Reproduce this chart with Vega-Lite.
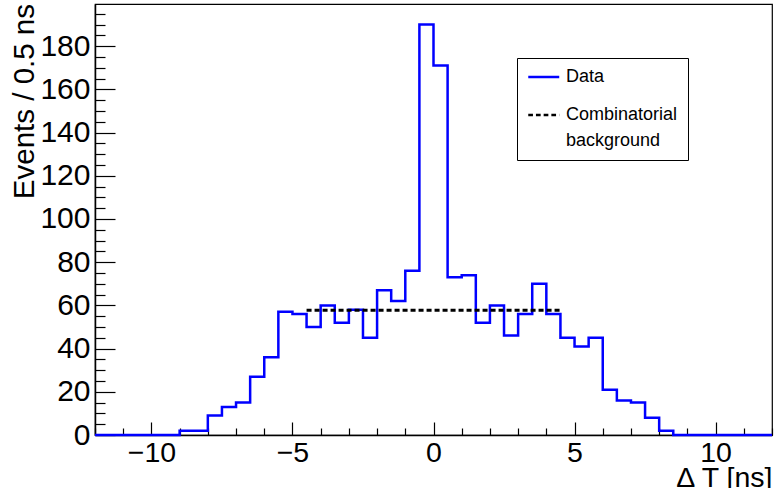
{
  "$schema": "https://vega.github.io/schema/vega-lite/v6.json",
  "width": 677,
  "height": 431,
  "autosize": {"type": "none"},
  "padding": {"left": 95, "top": 4, "right": 3, "bottom": 53},
  "background": "white",
  "config": {
    "view": {"stroke": "black", "strokeWidth": 1.2},
    "font": "Liberation Sans",
    "axis": {
      "grid": false,
      "domainColor": "black",
      "domainWidth": 1.5,
      "tickColor": "black",
      "tickWidth": 1.2,
      "labelColor": "black",
      "labelFont": "Liberation Sans",
      "labelFontSize": 29,
      "titleFont": "Liberation Sans",
      "titleFontSize": 29,
      "titleFontWeight": "normal",
      "titleColor": "black",
      "labelFlush": false,
      "labelOverlap": false
    }
  },
  "datasets": {
    "hist": [
      {"t": -12, "n": 0, "series": "Data"},
      {"t": -11.5, "n": 0, "series": "Data"},
      {"t": -11, "n": 0, "series": "Data"},
      {"t": -10.5, "n": 0, "series": "Data"},
      {"t": -10, "n": 0, "series": "Data"},
      {"t": -9.5, "n": 0, "series": "Data"},
      {"t": -9, "n": 2, "series": "Data"},
      {"t": -8.5, "n": 2, "series": "Data"},
      {"t": -8, "n": 9, "series": "Data"},
      {"t": -7.5, "n": 13, "series": "Data"},
      {"t": -7, "n": 15, "series": "Data"},
      {"t": -6.5, "n": 27, "series": "Data"},
      {"t": -6, "n": 36, "series": "Data"},
      {"t": -5.5, "n": 57, "series": "Data"},
      {"t": -5, "n": 56, "series": "Data"},
      {"t": -4.5, "n": 50, "series": "Data"},
      {"t": -4, "n": 60, "series": "Data"},
      {"t": -3.5, "n": 52, "series": "Data"},
      {"t": -3, "n": 58, "series": "Data"},
      {"t": -2.5, "n": 45, "series": "Data"},
      {"t": -2, "n": 67, "series": "Data"},
      {"t": -1.5, "n": 62, "series": "Data"},
      {"t": -1, "n": 76, "series": "Data"},
      {"t": -0.5, "n": 190, "series": "Data"},
      {"t": 0, "n": 171, "series": "Data"},
      {"t": 0.5, "n": 73, "series": "Data"},
      {"t": 1, "n": 74, "series": "Data"},
      {"t": 1.5, "n": 52, "series": "Data"},
      {"t": 2, "n": 60, "series": "Data"},
      {"t": 2.5, "n": 46, "series": "Data"},
      {"t": 3, "n": 56, "series": "Data"},
      {"t": 3.5, "n": 70, "series": "Data"},
      {"t": 4, "n": 56, "series": "Data"},
      {"t": 4.5, "n": 45, "series": "Data"},
      {"t": 5, "n": 41, "series": "Data"},
      {"t": 5.5, "n": 45, "series": "Data"},
      {"t": 6, "n": 21, "series": "Data"},
      {"t": 6.5, "n": 16, "series": "Data"},
      {"t": 7, "n": 15, "series": "Data"},
      {"t": 7.5, "n": 8, "series": "Data"},
      {"t": 8, "n": 2, "series": "Data"},
      {"t": 8.5, "n": 0, "series": "Data"},
      {"t": 9, "n": 0, "series": "Data"},
      {"t": 9.5, "n": 0, "series": "Data"},
      {"t": 10, "n": 0, "series": "Data"},
      {"t": 10.5, "n": 0, "series": "Data"},
      {"t": 11, "n": 0, "series": "Data"},
      {"t": 11.5, "n": 0, "series": "Data"},
      {"t": 12, "n": 0, "series": "Data"}
    ],
    "bkg": [
      {"t": -4.5, "n": 57.7, "series": "Combinatorial background"},
      {"t": 4.5, "n": 57.7, "series": "Combinatorial background"}
    ]
  },
  "resolve": {"axis": {"x": "independent", "y": "independent"}},
  "layer": [
    {
      "data": {"name": "hist"},
      "mark": {"type": "line", "interpolate": "step-after", "strokeWidth": 2.5},
      "encoding": {
        "x": {
          "field": "t", "type": "quantitative",
          "scale": {"domain": [-12, 12], "nice": false, "zero": false},
          "axis": {
            "orient": "bottom",
            "values": [-10, -5, 0, 5, 10],
            "tickSize": -13,
            "labelFontSize": 28.5,
            "labelPadding": 16,
            "format": "d",
            "title": "Δ T [ns]",
            "titleFontSize": 28.5,
            "titleAnchor": "end",
            "titleAlign": "right",
            "titleBaseline": "alphabetic",
            "titleX": 677,
            "titleY": 51
          }
        },
        "y": {
          "field": "n", "type": "quantitative",
          "scale": {"domain": [0, 199.5], "nice": false},
          "axis": {
            "orient": "left",
            "values": [0, 20, 40, 60, 80, 100, 120, 140, 160, 180],
            "tickSize": -20,
            "labelFontSize": 30,
            "labelPadding": 25,
            "format": "d",
            "title": "Events / 0.5 ns",
            "titleFontSize": 29.5,
            "titleAngle": -90,
            "titleAlign": "right",
            "titleBaseline": "alphabetic",
            "titleX": -62,
            "titleY": -0.5
          }
        },
        "color": {
          "field": "series", "type": "nominal",
          "scale": {"domain": ["Data", "Combinatorial background"], "range": ["#0000ff", "#000000"]},
          "legend": {
            "title": null,
            "orient": "none",
            "legendX": 422,
            "legendY": 54,
            "strokeColor": "black",
            "fillColor": "white",
            "padding": 10,
            "symbolType": "M-1,0H3",
            "symbolSize": 240,
            "symbolStrokeWidth": 2.5,
            "labelOffset": 21,
            "labelFont": "Liberation Sans",
            "labelFontSize": 18,
            "labelColor": "black",
            "labelLimit": 300,
            "rowPadding": 20,
            "labelExpr": "datum.label === 'Combinatorial background' ? ['Combinatorial', 'background'] : datum.label",
            "encode": {
              "symbols": {
                "update": {
                  "strokeDash": {"signal": "datum.value === 'Data' ? [1, 0] : [4.7, 3]"}
                }
              },
              "labels": {
                "update": {
                  "lineHeight": {"value": 26}
                }
              }
            }
          }
        }
      }
    },
    {
      "data": {"name": "bkg"},
      "mark": {"type": "line", "strokeWidth": 3, "strokeDash": [5, 3]},
      "encoding": {
        "x": {
          "field": "t", "type": "quantitative",
          "axis": {
            "orient": "bottom",
            "values": [-12,-11,-9,-8,-7,-6,-4,-3,-2,-1,1,2,3,4,6,7,8,9,11,12],
            "tickSize": -7,
            "labels": false,
            "domain": false,
            "title": null
          }
        },
        "y": {
          "field": "n", "type": "quantitative",
          "axis": {
            "orient": "left",
            "values": [5,10,15,25,30,35,45,50,55,65,70,75,85,90,95,105,110,115,125,130,135,145,150,155,165,170,175,185,190,195],
            "tickSize": -10,
            "labels": false,
            "domain": false,
            "title": null
          }
        },
        "color": {"field": "series", "type": "nominal"}
      }
    }
  ]
}
